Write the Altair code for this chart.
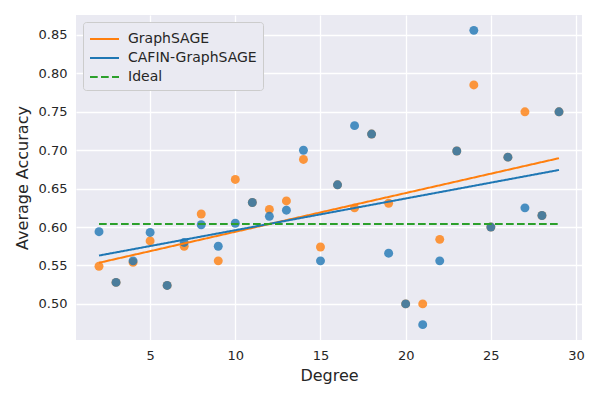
import altair as alt
import pandas as pd

degrees = list(range(2, 30))
graphsage = [0.549, 0.528, 0.554, 0.582, 0.524, 0.575, 0.617, 0.556, 0.662, 0.632,
             0.623, 0.634, 0.688, 0.574, 0.655, 0.625, 0.721, 0.631, 0.500, 0.500,
             0.584, 0.699, 0.785, 0.600, 0.691, 0.750, 0.615, 0.750]
cafin = [0.594, 0.528, 0.556, 0.593, 0.524, 0.580, 0.603, 0.575, 0.605, 0.632,
         0.614, 0.622, 0.700, 0.556, 0.655, 0.732, 0.721, 0.566, 0.500, 0.473,
         0.556, 0.699, 0.856, 0.600, 0.691, 0.625, 0.615, 0.750]
ideal_degree = [2, 29]
ideal_value = [0.604, 0.604]

series_names = ["GraphSAGE", "CAFIN-GraphSAGE", "Ideal"]
series_colors = ["#ff7f0e", "#1f77b4", "#2ca02c"]
series_dash = [[1, 0], [1, 0], [7.7, 3.3]]
x_ticks = [5, 10, 15, 20, 25, 30]
y_ticks = [0.50, 0.55, 0.60, 0.65, 0.70, 0.75, 0.80, 0.85]

n = len(degrees)
long = pd.DataFrame({
    "Degree": degrees + degrees,
    "Accuracy": graphsage + cafin,
    "series": ["GraphSAGE"] * n + ["CAFIN-GraphSAGE"] * n,
})
ideal = pd.DataFrame({"Degree": ideal_degree, "Accuracy": ideal_value,
                      "series": ["Ideal"] * len(ideal_degree)})

x = alt.X("Degree:Q", title="Degree",
          scale=alt.Scale(domain=[0.65, 30.35], nice=False, zero=False),
          axis=alt.Axis(values=x_ticks))
y = alt.Y("Accuracy:Q", title="Average Accuracy",
          scale=alt.Scale(domain=[0.453, 0.876], nice=False, zero=False),
          axis=alt.Axis(values=y_ticks, format=".2f"))

leg = alt.Legend(title=None, orient="top-left", offset=7,
                 symbolType="M-1,0H1.9", symbolSize=400, symbolStrokeWidth=2,
                 labelFontSize=14, labelOffset=17, labelColor="#262626",
                 padding=6, rowPadding=1, fillColor="#eaeaf2",
                 strokeColor="#cccccc", cornerRadius=3, labelLimit=300)
color = alt.Color("series:N", scale=alt.Scale(domain=series_names, range=series_colors), legend=leg)
dash = alt.StrokeDash("series:N", scale=alt.Scale(domain=series_names, range=series_dash), legend=leg)

base = alt.Chart(long)
pts_g = base.transform_filter(alt.datum.series == "GraphSAGE").mark_circle(
    size=80, opacity=0.8, color="#ff7f0e").encode(x=x, y=y)
pts_c = base.transform_filter(alt.datum.series == "CAFIN-GraphSAGE").mark_circle(
    size=80, opacity=0.8, color="#1f77b4").encode(x=x, y=y)
fit = base.transform_regression("Degree", "Accuracy", groupby=["series"]).mark_line(
    strokeWidth=2).encode(x=x, y=y, color=color, strokeDash=dash)
ideal_line = alt.Chart(ideal).mark_line(strokeWidth=2).encode(
    x=x, y=y, color=color, strokeDash=dash)

chart = alt.layer(pts_g, pts_c, fit, ideal_line).properties(
    width=506, height=325,
    padding={"left": 6, "top": 7, "right": 5, "bottom": 5},
    background="white",
).configure(font="DejaVu Sans").configure_view(
    fill="#eaeaf2", stroke=None
).configure_axis(
    grid=True, gridColor="white", gridWidth=1.3, domain=False, ticks=False,
    labelFontSize=13, labelColor="#262626", labelPadding=9,
    titleFontSize=16, titleFontWeight="normal", titleColor="#262626",
).configure_axisX(titlePadding=5).configure_axisY(titlePadding=8)

chart.save("out.html", embed_options={"renderer": "svg", "actions": False})
